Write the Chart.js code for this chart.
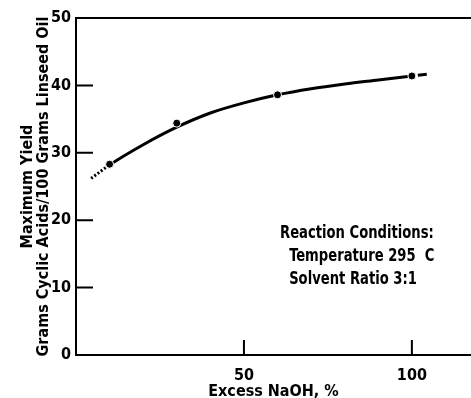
<!DOCTYPE html>
<html>
<head>
<meta charset="utf-8">
<script src="https://cdn.jsdelivr.net/npm/chart.js@4"></script>
<style>
  html,body{margin:0;padding:0;background:#fff;}
  #wrap{width:471px;height:398px;position:relative;}
</style>
</head>
<body>
<div id="wrap"><canvas id="yieldChart"></canvas></div>
<script>
// measured points (excess NaOH %, max yield)
const naoh     = [10, 30, 60, 100];
const yieldPct = [28.3, 34.4, 38.6, 41.4];

// smooth fitted curve
const curveX = [4.5, 10, 20, 30, 40, 50, 60, 70, 80, 90, 100, 105];
const curveY = [26.2, 28.2, 31.2, 33.8, 35.9, 37.4, 38.6, 39.5, 40.2, 40.8, 41.4, 41.7];

const yTicks = [0, 10, 20, 30, 40, 50];
const xTicks = [50, 100];

const notes = ['Reaction Conditions:', '  Temperature 295  C', '  Solvent Ratio 3:1'];

const FONT = '"DejaVu Sans Condensed", sans-serif';
const ink = '#000';

// inward tick marks, top frame line and the conditions note
const extras = {
  id: 'extras',
  afterDraw(chart){
    const {ctx, chartArea:a, scales:{x, y}} = chart;
    ctx.save();
    ctx.strokeStyle = ink;
    ctx.lineWidth = 2;
    ctx.beginPath();
    ctx.moveTo(a.left, a.top); ctx.lineTo(a.right, a.top);
    yTicks.filter(v => v > 0 && v < 50).forEach(v => {
      const py = y.getPixelForValue(v);
      ctx.moveTo(a.left, py); ctx.lineTo(a.left + 17, py);
    });
    xTicks.forEach(v => {
      const px = x.getPixelForValue(v);
      ctx.moveTo(px, a.bottom); ctx.lineTo(px, a.bottom - 15);
    });
    ctx.stroke();

    // narrow, tall lettering like the original
    ctx.fillStyle = ink;
    ctx.font = 'bold 17px ' + FONT;
    ctx.textBaseline = 'middle';
    ctx.translate(280, 234);
    ctx.scale(0.86, 1);
    notes.forEach((t, i) => ctx.fillText(t, 0, i * 23));
    ctx.restore();
  }
};

new Chart(document.getElementById('yieldChart'), {
  type: 'scatter',
  data: {
    datasets: [
      {
        label: 'Yield',
        data: naoh.map((v, i) => ({x: v, y: yieldPct[i]})),
        pointRadius: 4, pointBackgroundColor: ink, pointBorderColor: '#fff', pointBorderWidth: 1,
        showLine: false, order: 0
      },
      {
        label: 'Curve',
        data: curveX.map((v, i) => ({x: v, y: curveY[i]})),
        showLine: true, borderColor: ink, borderWidth: 3, pointRadius: 0,
        cubicInterpolationMode: 'monotone', order: 1,
        segment: {
          borderDash: c => c.p0DataIndex === 0 ? [2, 2]
                        : c.p0DataIndex === curveX.length - 2 ? [0, 6, 9, 50] : undefined
        }
      }
    ]
  },
  options: {
    responsive: true, maintainAspectRatio: false, animation: false,
    layout: {autoPadding: false, padding: {top: 18, right: 0, bottom: 0, left: 0}},
    plugins: {legend: {display: false}, tooltip: {enabled: false}},
    scales: {
      x: {
        type: 'linear', min: 0, max: 117.6,
        afterBuildTicks: s => { s.ticks = xTicks.map(v => ({value: v})); },
        afterFit: s => { s.height = 43; s.paddingLeft = 0; s.paddingRight = 0; },
        grid: {display: false, drawTicks: false},
        border: {display: true, color: ink, width: 2},
        ticks: {color: ink, font: {family: FONT, size: 16, weight: 'bold'}, padding: 11},
        title: {display: true, text: 'Excess NaOH, %', color: ink,
                font: {family: FONT, size: 16, weight: 'bold', lineHeight: 0.8}, padding: {top: 0, bottom: 0}}
      },
      y: {
        min: 0, max: 50,
        afterBuildTicks: s => { s.ticks = yTicks.map(v => ({value: v})); },
        afterFit: s => { s.width = 76; s.paddingTop = 0; s.paddingBottom = 0; },
        grid: {display: false, drawTicks: false},
        border: {display: true, color: ink, width: 2},
        ticks: {color: ink, font: {family: FONT, size: 16, weight: 'bold'}, padding: 5},
        title: {display: true, text: ['Maximum Yield', 'Grams Cyclic Acids/100 Grams Linseed Oil'], color: ink,
                font: {family: FONT, size: 16, weight: 'bold', lineHeight: 1.05}, padding: {top: 19, bottom: 0}}
      }
    }
  },
  plugins: [extras]
});
</script>
</body>
</html>
